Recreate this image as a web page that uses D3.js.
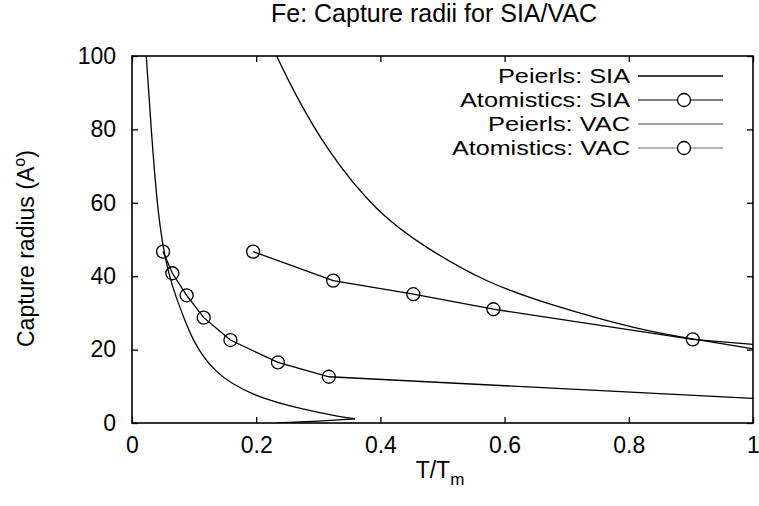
<!DOCTYPE html>
<html>
<head>
<meta charset="utf-8">
<script src="https://cdn.jsdelivr.net/npm/d3@7"></script>
<style>
  body { margin: 0; background: #fff; }
  text { font-family: "Liberation Sans", Arial, sans-serif; fill: #000; }
</style>
</head>
<body>
<div id="chart"></div>
<script>
// values: T/Tm vs capture radius (Angstrom)
var peierlsSiaT = [0.023, 0.034, 0.045, 0.059, 0.0715, 0.084, 0.097, 0.13, 0.195, 0.281, 0.330, 0.359, 0.300, 0.233];
var peierlsSiaR = [100, 72, 52, 40.5, 34, 28.5, 22.8, 13.8, 7.2, 3.5, 1.9, 1.1, 0.5, 0.0];

var atomSiaT = [0.050, 0.065, 0.088, 0.1155, 0.1585, 0.235, 0.317, 1.0];
var atomSiaR = [46.7, 40.8, 34.8, 28.7, 22.6, 16.5, 12.6, 6.7];
var atomSiaMarks = 7; // the last point is only the line end

var peierlsVacT = [0.233, 0.259, 0.313, 0.394, 0.474, 0.571, 0.673, 0.818, 0.903, 1.0];
var peierlsVacR = [100, 90.7, 74.4, 57.3, 47.6, 38.2, 32.2, 25.3, 22.9, 20.2];

var atomVacT = [0.195, 0.324, 0.453, 0.582, 0.903, 1.0];
var atomVacR = [46.7, 38.8, 35.1, 31.0, 22.8, 21.4];
var atomVacMarks = 5;

var xTicks = [0, 0.2, 0.4, 0.6, 0.8, 1];
var yTicks = [0, 20, 40, 60, 80, 100];
var legendNames = ["Peierls: SIA", "Atomistics: SIA", "Peierls: VAC", "Atomistics: VAC"];

var W = 759, H = 506;
var margin = {top: 56, right: 6, bottom: 83, left: 132};

var svg = d3.select("#chart").append("svg")
    .attr("width", W)
    .attr("height", H);

var x = d3.scaleLinear().domain([0, 1]).range([margin.left, W - margin.right]);
var y = d3.scaleLinear().domain([0, 100]).range([H - margin.bottom, margin.top]);

function zip(a, b) { return a.map(function(v, i) { return [v, b[i]]; }); }

// title
svg.append("text")
    .attr("x", 434).attr("y", 22)
    .attr("text-anchor", "middle")
    .style("font-size", "25px")
    .text("Fe: Capture radii for SIA/VAC");

// axes, gnuplot style: inward ticks on all sides
var tk = 6;
var gx = svg.append("g").attr("transform", "translate(0," + y(0) + ")")
    .call(d3.axisBottom(x).tickValues(xTicks).tickSize(-tk).tickPadding(14).tickFormat(d3.format("~g")));
var gxt = svg.append("g").attr("transform", "translate(0," + y(100) + ")")
    .call(d3.axisTop(x).tickValues(xTicks).tickSize(-tk).tickFormat(""));
var gy = svg.append("g").attr("transform", "translate(" + x(0) + ",0)")
    .call(d3.axisLeft(y).tickValues(yTicks).tickSize(-tk).tickPadding(16));
var gyr = svg.append("g").attr("transform", "translate(" + x(1) + ",0)")
    .call(d3.axisRight(y).tickValues(yTicks).tickSize(-tk).tickFormat(""));

[gx, gxt, gy, gyr].forEach(function(g) {
  g.select(".domain").remove();
  g.selectAll("line").attr("stroke", "#000").attr("stroke-width", 1.3);
  g.selectAll("text").style("font-size", "23px").attr("fill", "#000")
    .style("font-family", "'Liberation Sans', Arial, sans-serif");
});

// frame
svg.append("rect")
    .attr("x", x(0)).attr("y", y(100))
    .attr("width", x(1) - x(0)).attr("height", y(0) - y(100))
    .attr("fill", "none").attr("stroke", "#000").attr("stroke-width", 1.6);

// axis labels
var yl = svg.append("text")
    .attr("transform", "translate(34,347) rotate(-90)")
    .style("font-size", "23px");
yl.append("tspan").text("Capture radius (A");
yl.append("tspan").attr("dy", -9).style("font-size", "16px").text("o");
yl.append("tspan").attr("dy", 9).text(")");

var xl = svg.append("text")
    .attr("x", 440).attr("y", 478)
    .attr("text-anchor", "middle")
    .style("font-size", "23px");
xl.append("tspan").text("T/T");
xl.append("tspan").attr("dy", 7).style("font-size", "17px").text("m");

// clip to the plot box
svg.append("clipPath").attr("id", "clip").append("rect")
    .attr("x", x(0)).attr("y", y(100))
    .attr("width", x(1) - x(0)).attr("height", y(0) - y(100));

var plot = svg.append("g").attr("clip-path", "url(#clip)");

var line = d3.line()
    .x(function(d) { return x(d[0]); })
    .y(function(d) { return y(d[1]); });
var smooth = d3.line()
    .x(function(d) { return x(d[0]); })
    .y(function(d) { return y(d[1]); })
    .curve(d3.curveBasis);

var pSia = zip(peierlsSiaT, peierlsSiaR);
// smooth falling part, then the straight return to the axis
plot.append("path").datum(pSia.slice(0, 12))
    .attr("d", smooth).attr("fill", "none").attr("stroke", "#000").attr("stroke-width", 1.3);
plot.append("path").datum(pSia.slice(11))
    .attr("d", line).attr("fill", "none").attr("stroke", "#000").attr("stroke-width", 1.3);

plot.append("path").datum(zip(peierlsVacT, peierlsVacR))
    .attr("d", smooth).attr("fill", "none").attr("stroke", "#000").attr("stroke-width", 1.3);

var aSia = zip(atomSiaT, atomSiaR);
var aVac = zip(atomVacT, atomVacR);
plot.append("path").datum(aSia)
    .attr("d", line).attr("fill", "none").attr("stroke", "#000").attr("stroke-width", 1.3);
plot.append("path").datum(aVac)
    .attr("d", line).attr("fill", "none").attr("stroke", "#000").attr("stroke-width", 1.3);

plot.append("g").selectAll("circle")
    .data(aSia.slice(0, atomSiaMarks).concat(aVac.slice(0, atomVacMarks)))
    .enter().append("circle")
      .attr("cx", function(d) { return x(d[0]); })
      .attr("cy", function(d) { return y(d[1]); })
      .attr("r", 6.5)
      .attr("fill", "none").attr("stroke", "#000").attr("stroke-width", 1.3);

// legend - rows are tight, so a smaller font stretched to the original widths
var leg = svg.append("g");
var legStyle = [
  {w: 1.4, c: "#000", mark: false, len: 132},
  {w: 1.2, c: "#000", mark: true, len: 170},
  {w: 0.9, c: "#333", mark: false, len: 142},
  {w: 0.8, c: "#444", mark: true, len: 178}
];
legendNames.forEach(function(name, i) {
  var ly = 76 + i * 24;
  leg.append("text")
      .attr("x", 630).attr("y", ly).attr("dy", "0.36em")
      .attr("text-anchor", "end")
      .attr("textLength", legStyle[i].len)
      .attr("lengthAdjust", "spacingAndGlyphs")
      .style("font-size", "20.5px")
      .text(name);
  leg.append("line")
      .attr("x1", 638).attr("x2", 723).attr("y1", ly).attr("y2", ly)
      .attr("stroke", legStyle[i].c).attr("stroke-width", legStyle[i].w);
  if (legStyle[i].mark) {
    leg.append("circle")
        .attr("cx", 684).attr("cy", ly).attr("r", 6.5)
        .attr("fill", "#fff").attr("stroke", "#000").attr("stroke-width", 1.3);
  }
});
</script>
</body>
</html>
